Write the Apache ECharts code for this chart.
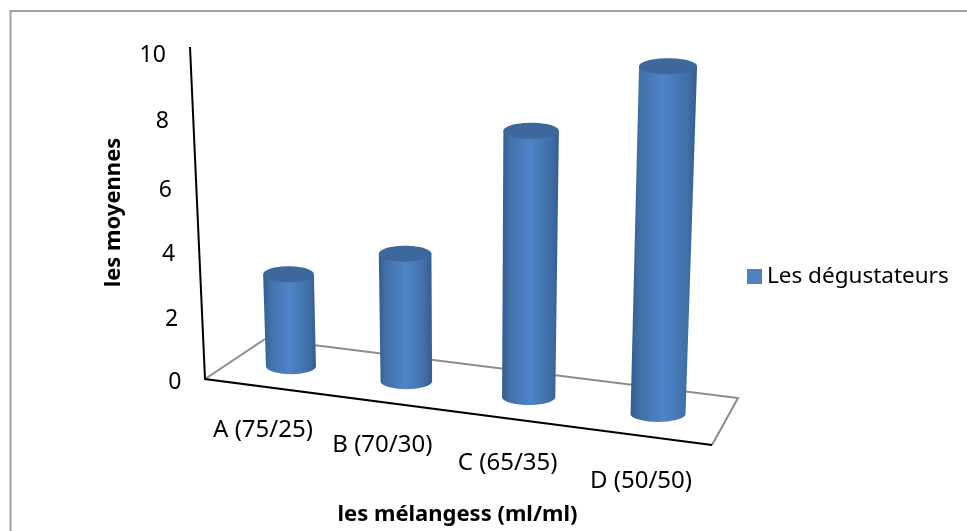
<!DOCTYPE html>
<html>
<head>
<meta charset="utf-8">
<style>
  html, body { margin: 0; padding: 0; background: #fff; }
  #chart { width: 967px; height: 531px; }
</style>
<script src="https://cdn.jsdelivr.net/npm/echarts@6/dist/echarts.min.js"></script>
</head>
<body>
<div id="chart"></div>
<script>
const categories = ['A (75/25)', 'B (70/30)', 'C (65/35)', 'D (50/50)'];
const values = [2.7, 3.6, 7.25, 9.1];
const yTicks = [0, 2, 4, 6, 8, 10];
const seriesName = 'Les dégustateurs';

const font = 'Noto Sans';
const chart = echarts.init(document.getElementById('chart'));

// fake perspective of the excel 3d chart, on top of what the axes give
function project(api, i, v) {
  const t = i / (categories.length - 1);
  const base = api.coord([i, 0]);
  const top = api.coord([i, v]);
  const x = base[0] - 31.5 * t * (1 - t);
  const y = 379 + 0.13 * (x - 205) - 24;
  const h = (base[1] - top[1]) * (1 + 0.00034 * (x - 205));
  const lean = 0.000152 * (x - 468) * h;
  const r = 25 + 0.0068 * (x - 291);
  return { x, y, h, lean, r, rTop: r * (1 + 0.00016 * h) };
}

function renderCylinder(params, api) {
  const i = api.value(0);
  const p = project(api, i, api.value(1));
  const ry = 8;
  const topX = p.x + p.lean;
  const topY = p.y - p.h;
  const points = [[topX - p.rTop, topY]];
  for (let a = 180; a >= 0; a -= 10) {
    const rad = a * Math.PI / 180;
    points.push([p.x + p.r * Math.cos(rad), p.y + ry * Math.sin(rad)]);
  }
  points.push([topX + p.rTop, topY]);
  return {
    type: 'group',
    children: [
      {
        type: 'polygon',
        shape: { points },
        style: {
          fill: new echarts.graphic.LinearGradient(0, 0, 1, 0, [
            { offset: 0, color: '#355d8d' },
            { offset: 0.15, color: '#4271aa' },
            { offset: 0.5, color: '#4f84c8' },
            { offset: 0.85, color: '#406fa8' },
            { offset: 1, color: '#355d8d' }
          ])
        }
      },
      {
        type: 'ellipse',
        shape: { cx: topX, cy: topY, rx: p.rTop, ry },
        style: { fill: '#3d689b' }
      }
    ]
  };
}

function line(points, color, width) {
  return { type: 'polyline', z: 1, shape: { points }, style: { stroke: color, lineWidth: width, fill: null } };
}

// per label nudges, the labels follow the slanted floor
const xLabelPadTop = [0, 15, 33, 51];
const xLabelPadRight = [56, 62, 56, 34];
const xRich = {};
categories.forEach((c, i) => {
  xRich['c' + i] = {
    fontFamily: font, fontSize: 24, color: '#000',
    padding: [xLabelPadTop[i], xLabelPadRight[i], 0, 0]
  };
});
const yLabelPadTop = [8, 15, 18, 22, 17, 16];
const yRich = {};
yTicks.forEach((v, i) => {
  yRich['v' + v] = {
    fontFamily: font, fontSize: 23, color: '#000',
    padding: [yLabelPadTop[i], v * 1.55, 0, 0]
  };
});

chart.setOption({
  animation: false,
  backgroundColor: '#fff',
  grid: { left: 229.8, right: 247.8, top: 47, bottom: 151 },
  legend: {
    data: [{ name: seriesName, icon: 'rect' }],
    left: 742,
    top: 260,
    itemWidth: 15,
    itemHeight: 15,
    itemGap: 7,
    textStyle: { fontFamily: font, fontSize: 22.5, color: '#000' }
  },
  xAxis: {
    type: 'category',
    data: categories,
    name: 'les mélangess (ml/ml)',
    nameLocation: 'middle',
    nameGap: 126,
    nameTextStyle: { fontFamily: font, fontSize: 22, fontWeight: 'bold', color: '#000', padding: [0, 34, 0, 0] },
    axisLine: { show: false },
    axisTick: { show: false },
    axisLabel: {
      interval: 0,
      margin: 40,
      formatter: (value, index) => `{c${index}|${value}}`,
      rich: xRich
    }
  },
  yAxis: {
    type: 'value',
    min: 0,
    max: 10,
    interval: 2,
    name: 'les moyennes',
    nameLocation: 'middle',
    nameGap: 105,
    nameRotate: 90,
    nameTextStyle: { fontFamily: font, fontSize: 22, fontWeight: 'bold', color: '#000' },
    axisLine: { show: false },
    axisTick: { show: false },
    splitLine: { show: false },
    axisLabel: {
      margin: 48.5,
      formatter: value => `{v${value}|${value}}`,
      rich: yRich
    }
  },
  series: [
    {
      name: seriesName,
      type: 'custom',
      renderItem: renderCylinder,
      itemStyle: { color: '#4f81bd' },
      encode: { x: 0, y: 1 },
      data: values.map((v, i) => [i, v]),
      z: 5
    }
  ],
  graphic: [
    line([[10.5, 531], [10.5, 11], [967, 11]], '#a0a0a0', 2),
    line([[265, 339], [738, 398], [712, 445]], '#8c8c8c', 2),
    line([[205, 379], [265, 339]], '#8c8c8c', 2),
    line([[190, 47], [205, 379], [712, 445]], '#000', 2)
  ]
});
</script>
</body>
</html>
